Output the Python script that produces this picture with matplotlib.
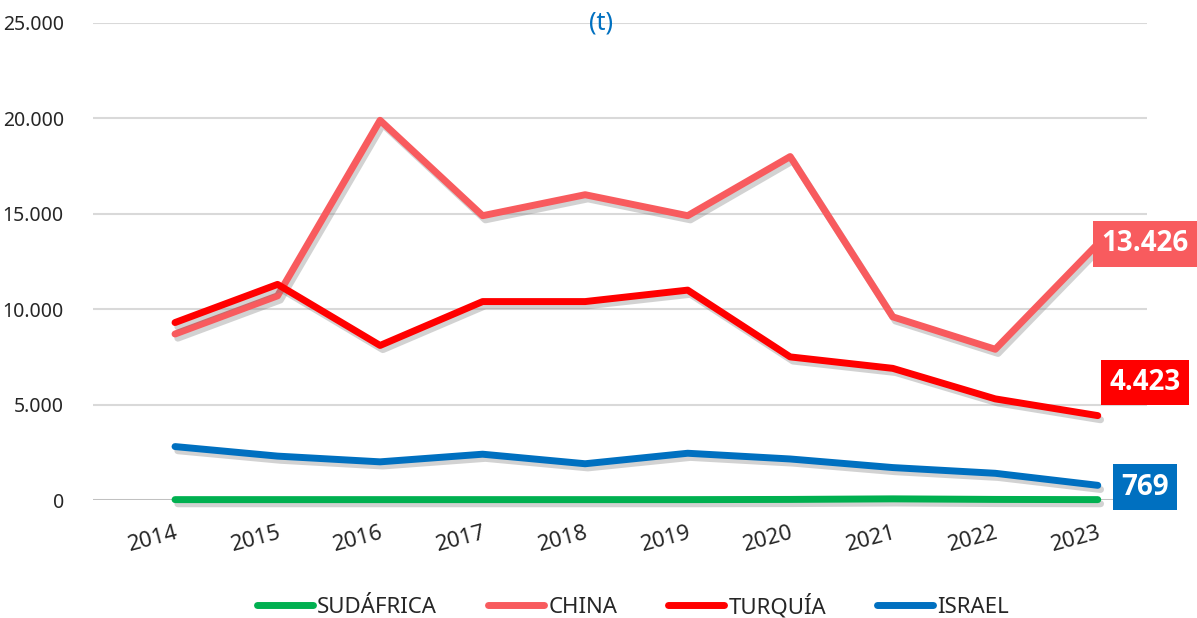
import numpy as np
import matplotlib.pyplot as plt
import matplotlib.patheffects as pe

# Toneladas por país, 2014-2023
years = [2014, 2015, 2016, 2017, 2018, 2019, 2020, 2021, 2022, 2023]
sudafrica = [20, 20, 20, 20, 20, 20, 30, 60, 30, 20]
china = [8700, 10700, 19900, 14900, 16000, 14900, 18000, 9600, 7900, 13426]
turquia = [9300, 11300, 8100, 10400, 10400, 11000, 7500, 6900, 5300, 4423]
israel = [2800, 2300, 2000, 2400, 1900, 2450, 2150, 1700, 1400, 769]

series = [
    ("SUDÁFRICA", sudafrica, "#00B050"),
    ("CHINA", china, "#F85B5E"),
    ("TURQUÍA", turquia, "#FF0000"),
    ("ISRAEL", israel, "#0070C0"),
]

tick_font = "Noto Sans"

fig = plt.figure(figsize=(11.97, 6.18), dpi=100)
ax = fig.add_axes([93 / 1197, 1 - 500 / 618, (1147 - 93) / 1197, (500 - 23) / 618])

shadow = [pe.SimpleLineShadow(offset=(2, -3), shadow_color="#7f7f7f", alpha=0.35), pe.Normal()]

for name, vals, col in series:
    ax.plot(years, vals, color=col, lw=5, label=name, solid_capstyle="round",
            solid_joinstyle="round", clip_on=False, path_effects=shadow, zorder=3)

ax.set_xlim(2014 - 0.8, 2023 + 0.48)
ax.set_ylim(0, 25000)
ax.set_yticks(np.arange(0, 25001, 5000))
ax.set_yticklabels([f"{v:,}".replace(",", ".") for v in range(0, 25001, 5000)],
                   fontsize=14, family=tick_font, color="#262626")
ax.set_xticks(years)
ax.set_xticklabels([str(y) for y in years], rotation=15, ha="right",
                   rotation_mode="anchor", fontsize=16, family=tick_font, color="#262626")
ax.tick_params(axis="both", length=0)
ax.tick_params(axis="y", pad=21)
ax.tick_params(axis="x", pad=16)

ax.grid(axis="y", color="#D9D9D9", lw=1.5)
ax.set_axisbelow(True)
for s in ax.spines.values():
    s.set_visible(False)
ax.axhline(0, color="#BFBFBF", lw=2, zorder=1)

ax.text(0.482, 1.0, "(t)", transform=ax.transAxes, ha="center", va="center",
        fontsize=18, color="#0070C0", family=tick_font)

# Etiquetas del último año
end_labels = [(china, "#F85B5E", 0), (turquia, "#FF0000", 33), (israel, "#0070C0", -2)]
for vals, col, dy in end_labels:
    ax.annotate(f"{vals[-1]:,}".replace(",", "."), xy=(years[-1], vals[-1]),
                xytext=(47, dy), textcoords="offset pixels", ha="center", va="center",
                fontsize=20, fontweight="bold", color="white", family="Open Sans",
                bbox=dict(boxstyle="square,pad=0.3", fc=col, ec="none"),
                annotation_clip=False, zorder=5)

leg = fig.legend(loc="center", bbox_to_anchor=(633 / 1197, 1 - 606 / 618), ncol=4,
                 frameon=False, handlelength=2.5, handletextpad=0.2, columnspacing=2.3,
                 prop={"family": tick_font, "size": 16})
for h in leg.legend_handles:
    h.set_linewidth(5)
    h.set_path_effects([])
for t in leg.get_texts():
    t.set_color("#262626")

fig.savefig("out.png", dpi=100)
